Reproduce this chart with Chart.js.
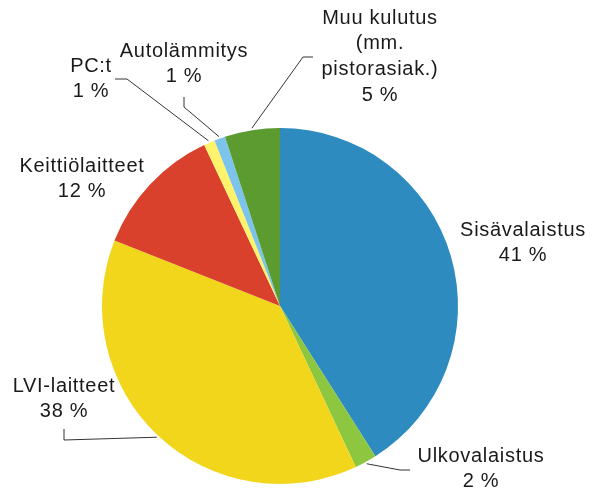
<!DOCTYPE html>
<html>
<head>
<meta charset="utf-8">
<script src="https://cdn.jsdelivr.net/npm/chart.js@4"></script>
<style>
  body { margin: 0; background: #fff; }
  #wrap { width: 592px; height: 496px; position: relative; }
</style>
</head>
<body>
<div id="wrap"><canvas id="pie"></canvas></div>
<script>
const kategoriat = ['Sisävalaistus', 'Ulkovalaistus', 'LVI-laitteet', 'Keittiölaitteet', 'PC:t', 'Autolämmitys', 'Muu kulutus\n(mm.\npistorasiak.)'];
const osuudet = [41, 2, 38, 12, 1, 1, 5];
const varit = ['#2D8BBF', '#8DC73F', '#F2D61C', '#D9412C', '#FFF36B', '#7DC4EC', '#5C9B30'];

// label placement: text centre x, first line centre y, leader elbow points (label side first)
const sijoittelu = [
    { x: 523, y: 230, viiva: null },
    { x: 481, y: 456, viiva: [[410, 470], [400, 470]] },
    { x: 64, y: 386, viiva: [[64, 429], [64, 440]] },
    { x: 82, y: 166, viiva: null },
    { x: 91, y: 66, viiva: [[115, 79], [127, 79]] },
    { x: 184, y: 51, viiva: [[184, 97], [184, 107]] },
    { x: 380, y: 18, viiva: [[313, 57], [303, 57]] }
];

const otsikot = {
    id: 'otsikot',
    afterDraw(chart) {
        const ctx = chart.ctx;
        const arcs = chart.getDatasetMeta(0).data;
        ctx.save();
        ctx.strokeStyle = '#333';
        ctx.lineWidth = 1;
        arcs.forEach((arc, i) => {
            const s = sijoittelu[i];
            if (!s.viiva) return;
            const kulma = (arc.startAngle + arc.endAngle) / 2;
            const r = arc.outerRadius + 2;
            ctx.beginPath();
            ctx.moveTo(s.viiva[0][0], s.viiva[0][1]);
            for (let k = 1; k < s.viiva.length; k++) ctx.lineTo(s.viiva[k][0], s.viiva[k][1]);
            ctx.lineTo(arc.x + Math.cos(kulma) * r, arc.y + Math.sin(kulma) * r);
            ctx.stroke();
        });
        ctx.fillStyle = '#1a1a1a';
        ctx.font = '20px "Liberation Sans", Arial, sans-serif';
        ctx.letterSpacing = '0.7px';
        ctx.textAlign = 'center';
        ctx.textBaseline = 'middle';
        kategoriat.forEach((nimi, i) => {
            const s = sijoittelu[i];
            const rivit = nimi.split('\n').concat([osuudet[i] + ' %']);
            rivit.forEach((rivi, j) => {
                ctx.fillText(rivi, s.x, s.y + j * 25.8);
            });
        });
        ctx.restore();
    }
};

new Chart(document.getElementById('pie'), {
    type: 'pie',
    data: {
        labels: kategoriat,
        datasets: [{
            data: osuudet,
            backgroundColor: varit,
            borderWidth: 0,
            hoverBorderWidth: 0,
            hoverOffset: 0,
            offset: 0
        }]
    },
    options: {
        responsive: true,
        maintainAspectRatio: false,
        animation: false,
        layout: { padding: { top: 128, bottom: 12, left: 0, right: 32 } },
        plugins: {
            legend: { display: false },
            tooltip: { enabled: false }
        }
    },
    plugins: [otsikot]
});
</script>
</body>
</html>
